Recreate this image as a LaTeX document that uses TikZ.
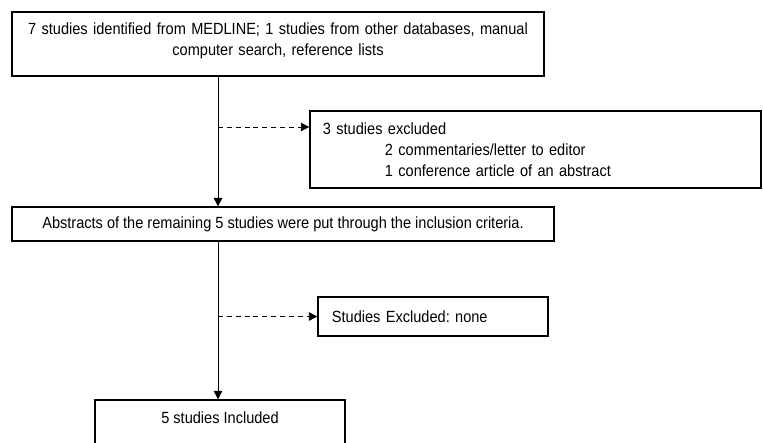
\documentclass[tikz,border=0pt]{standalone}
\usepackage{fontspec}
\setmainfont{Liberation Sans}[FakeStretch=0.9]
\usetikzlibrary{arrows.meta,positioning}

\begin{document}
\frenchspacing
\begin{tikzpicture}[x=0.025cm, y=-0.025cm, >={Triangle[length=6pt,width=6pt]},
  box/.style={draw, line width=0.9pt, inner sep=0pt, font=\fontsize{11.5}{14.8}\selectfont},
  flow/.style={->, line width=0.6pt},
  skip/.style={->, line width=0.6pt, dash pattern=on 3.5pt off 2.8pt}]
  \useasboundingbox (0,0) rectangle (763,442);

  % Main column
  \node[box, minimum width=13.3cm, minimum height=1.6cm, text width=13cm, align=center, text depth=0.75cm] (search) at (278,44)
    {7 studies identified from MEDLINE; 1 studies from other databases, manual\\computer search, reference lists};
  \node[box, minimum width=13.55cm, minimum height=0.85cm] (abstr) at (283,224)
    {Abstracts of the remaining 5 studies were put through the inclusion criteria.};
  \node[box, minimum width=6.25cm, minimum height=1.2cm, text depth=0.3cm] (incl) at (220,424) {5 studies Included};

  % Side boxes
  \node[box, minimum width=11.275cm, minimum height=1.925cm, text width=10.625cm, align=left] (excl) at (535.5,149.5)
    {3 studies excluded\\\hspace*{1.55cm}2 commentaries/letter to editor\\\hspace*{1.55cm}1 conference article of an abstract};
  \node[box, minimum width=5.75cm, minimum height=0.975cm, text width=5.05cm, align=left] (none) at (433,316.5)
    {Studies Excluded: none};

  \coordinate (spine) at (218,0);
  \coordinate (b1) at (218,127);

  \draw[flow] (search.south -| spine) -- (abstr.north -| spine);
  \draw[flow] (abstr.south -| spine) -- (incl.north -| spine);
  \draw[skip] (b1) -- (b1 -| excl.west);
  \draw[skip] (spine |- none.west) -- (none.west);
\end{tikzpicture}
\end{document}
